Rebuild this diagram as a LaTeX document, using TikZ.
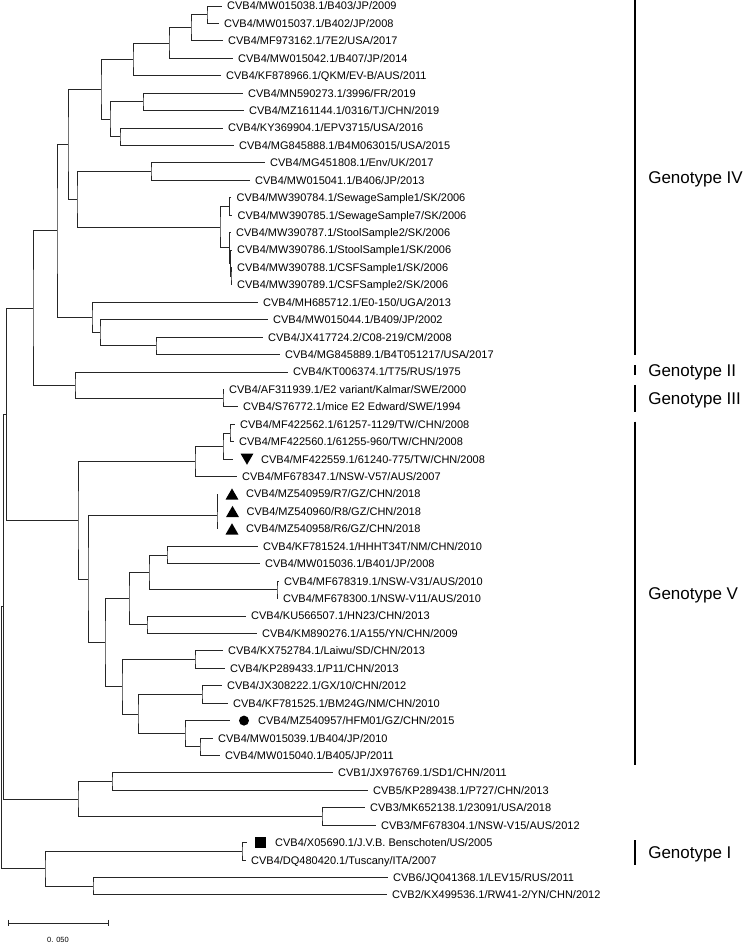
\documentclass[tikz,border=0pt]{standalone}
\usepackage{fontspec}
\setmainfont{Liberation Sans}
\usetikzlibrary{positioning,shapes.geometric}

\tikzset{
  branch/.style={draw=black!85, line width=0.95pt},
  leaf/.style={anchor=west, inner sep=0pt, text height=7.9pt, text depth=0pt,
    font=\fontsize{11}{13}\selectfont},
  gbar/.style={line width=2.6pt},
  glabel/.style={anchor=west, inner sep=0pt, text height=12.2pt, text depth=0pt,
    font=\fontsize{17}{20}\selectfont},
  uptri/.style={regular polygon, regular polygon sides=3, fill=black, draw=none,
    inner sep=0pt, minimum size=15pt, yshift=-1.9pt},
  downtri/.style={uptri, shape border rotate=180, yshift=3.8pt},
  dotmark/.style={circle, fill=black, inner sep=0pt, minimum size=10pt},
  sqmark/.style={rectangle, fill=black, inner sep=0pt, minimum size=11pt}
}

\begin{document}
\begin{tikzpicture}[x=1pt, y=-17.43pt]
\useasboundingbox (0,0.656) rectangle (750,54.874);

% Leaf tips (x in px, y in rows)
\coordinate (L1) at (222,1);
\coordinate (L2) at (219,2);
\coordinate (L3) at (223,3);
\coordinate (L4) at (233,4);
\coordinate (L5) at (221,5);
\coordinate (L6) at (243,6);
\coordinate (L7) at (244,7);
\coordinate (L8) at (223,8);
\coordinate (L9) at (234,9);
\coordinate (L10) at (265,10);
\coordinate (L11) at (250,11);
\coordinate (L12) at (231.5,12);
\coordinate (L13) at (232.5,13);
\coordinate (L14) at (231,14);
\coordinate (L15) at (232,15);
\coordinate (L16) at (232,16);
\coordinate (L17) at (232,17);
\coordinate (L18) at (258,18);
\coordinate (L19) at (268,19);
\coordinate (L20) at (263,20);
\coordinate (L21) at (280,21);
\coordinate (L22) at (288,22);
\coordinate (L23) at (224,23);
\coordinate (L24) at (238,24);
\coordinate (L25) at (235,25);
\coordinate (L26) at (234,26);
\coordinate (L27) at (233,27);
\coordinate (L28) at (237,28);
\coordinate (L29) at (218,29);
\coordinate (L30) at (218.5,30);
\coordinate (L31) at (218,31);
\coordinate (L32) at (258,32);
\coordinate (L33) at (260,33);
\coordinate (L34) at (279,34);
\coordinate (L35) at (278,35);
\coordinate (L36) at (246,36);
\coordinate (L37) at (257,37);
\coordinate (L38) at (223,38);
\coordinate (L39) at (225,39);
\coordinate (L40) at (222,40);
\coordinate (L41) at (228,41);
\coordinate (L42) at (230,42);
\coordinate (L43) at (213,43);
\coordinate (L44) at (220,44);
\coordinate (L45) at (333,45);
\coordinate (L46) at (368,46);
\coordinate (L47) at (365,47);
\coordinate (L48) at (376,48);
\coordinate (L49) at (247,49);
\coordinate (L50) at (246,50);
\coordinate (L51) at (388,51);
\coordinate (L52) at (387,52);

% Internal nodes: Genotype IV
\coordinate (n12) at (207,1.5);
\coordinate (n123) at (191,2.25);
\coordinate (n1234) at (169,3.125);
\coordinate (n15) at (133,4.0625);
\coordinate (n67) at (143,6.5);
\coordinate (n89) at (120,8.5);
\coordinate (n69) at (110,7.5);
\coordinate (n19) at (101,5.78125);
\coordinate (n1011) at (151,10.5);
\coordinate (n1213) at (229.5,12.5);
\coordinate (n1617) at (231,16.5);
\coordinate (n1517) at (230.5,15.75);
\coordinate (n1417) at (229.5,14.875);
\coordinate (n1217) at (220,13.6875);
\coordinate (n1017) at (77,12.09375);
\coordinate (n117) at (68,8.9375);
\coordinate (n2021) at (156,20.5);
\coordinate (n1921) at (100,19.75);
\coordinate (n1821) at (92,18.875);
\coordinate (nIV) at (57,13.90625);
% Genotype II and III
\coordinate (n2324) at (223,23.5);
\coordinate (n2224) at (75,22.75);
\coordinate (n124) at (33,18.328125);
% Genotype V
\coordinate (n2526) at (230,25.5);
\coordinate (n2527) at (223,26.25);
\coordinate (n2528) at (195,27.125);
\coordinate (n2930) at (217.5,29.5);
\coordinate (n2931) at (217,30.25);
\coordinate (n3233) at (167,32.5);
\coordinate (n3435) at (277,34.5);
\coordinate (n3235) at (149,33.5);
\coordinate (n3637) at (147,36.5);
\coordinate (n3237) at (129,35);
\coordinate (n3839) at (195,38.5);
\coordinate (n4041) at (202,40.5);
\coordinate (n4344) at (200,43.5);
\coordinate (n4244) at (185,42.75);
\coordinate (n4044) at (138,41.625);
\coordinate (n3844) at (122,40.0625);
\coordinate (n3244) at (105,37.53125);
\coordinate (n2944) at (88,33.890625);
\coordinate (nV) at (78,30.5078125);
\coordinate (nB4) at (6.7,24.41796875);
% Other serotypes and root
\coordinate (n4546) at (112,45.5);
\coordinate (n4748) at (322,47.5);
\coordinate (n4548) at (78,46.5);
\coordinate (nX) at (3.3,35.458984);
\coordinate (n4950) at (242,49.5);
\coordinate (n5152) at (93,51.5);
\coordinate (n4952) at (45,50.5);
\coordinate (root) at (1.7,42.979492);

% Branches
\draw[branch] (L1) -| (n12) |- (L2);
\draw[branch] (n12) -| (n123) |- (L3);
\draw[branch] (n123) -| (n1234) |- (L4);
\draw[branch] (n1234) -| (n15) |- (L5);
\draw[branch] (L6) -| (n67) |- (L7);
\draw[branch] (L8) -| (n89) |- (L9);
\draw[branch] (n67) -| (n69) |- (n89);
\draw[branch] (n15) -| (n19) |- (n69);
\draw[branch] (L10) -| (n1011) |- (L11);
\draw[branch] (L12) -| (n1213) |- (L13);
\draw[branch] (L16) -| (n1617) |- (L17);
\draw[branch] (L15) -| (n1517) |- (n1617);
\draw[branch] (L14) -| (n1417) |- (n1517);
\draw[branch] (n1213) -| (n1217) |- (n1417);
\draw[branch] (n1011) -| (n1017) |- (n1217);
\draw[branch] (n19) -| (n117) |- (n1017);
\draw[branch] (L20) -| (n2021) |- (L21);
\draw[branch] (L19) -| (n1921) |- (n2021);
\draw[branch] (L18) -| (n1821) |- (n1921);
\draw[branch] (n117) -| (nIV) |- (n1821);
\draw[branch] (L23) -| (n2324) |- (L24);
\draw[branch] (L22) -| (n2224) |- (n2324);
\draw[branch] (nIV) -| (n124) |- (n2224);
\draw[branch] (L25) -| (n2526) |- (L26);
\draw[branch] (n2526) -| (n2527) |- (L27);
\draw[branch] (n2527) -| (n2528) |- (L28);
\draw[branch] (L29) -| (n2930) |- (L30);
\draw[branch] (n2930) -| (n2931) |- (L31);
\draw[branch] (L32) -| (n3233) |- (L33);
\draw[branch] (L34) -| (n3435) |- (L35);
\draw[branch] (n3233) -| (n3235) |- (n3435);
\draw[branch] (L36) -| (n3637) |- (L37);
\draw[branch] (n3235) -| (n3237) |- (n3637);
\draw[branch] (L38) -| (n3839) |- (L39);
\draw[branch] (L40) -| (n4041) |- (L41);
\draw[branch] (L43) -| (n4344) |- (L44);
\draw[branch] (L42) -| (n4244) |- (n4344);
\draw[branch] (n4041) -| (n4044) |- (n4244);
\draw[branch] (n3839) -| (n3844) |- (n4044);
\draw[branch] (n3237) -| (n3244) |- (n3844);
\draw[branch] (n2931) -| (n2944) |- (n3244);
\draw[branch] (n2528) -| (nV) |- (n2944);
\draw[branch] (n124) -| (nB4) |- (nV);
\draw[branch] (L45) -| (n4546) |- (L46);
\draw[branch] (L47) -| (n4748) |- (L48);
\draw[branch] (n4546) -| (n4548) |- (n4748);
\draw[branch] (nB4) -| (nX) |- (n4548);
\draw[branch] (L49) -| (n4950) |- (L50);
\draw[branch] (L51) -| (n5152) |- (L52);
\draw[branch] (n4950) -| (n4952) |- (n5152);
\draw[branch] (nX) -| (root) |- (n4952);

% Markers for the study strains
\node[downtri] (m27) at ([xshift=14pt]L27) {};
\node[uptri] (m29) at ([xshift=14pt]L29) {};
\node[uptri] (m30) at ([xshift=14pt]L30) {};
\node[uptri] (m31) at ([xshift=14pt]L31) {};
\node[dotmark] (m42) at ([xshift=14pt]L42) {};
\node[sqmark] (m49) at ([xshift=14pt]L49) {};

% Leaf labels
\node[leaf, right=5pt of L1] (t1) {CVB4/MW015038.1/B403/JP/2009};
\node[leaf, right=5pt of L2] (t2) {CVB4/MW015037.1/B402/JP/2008};
\node[leaf, right=5pt of L3] (t3) {CVB4/MF973162.1/7E2/USA/2017};
\node[leaf, right=5pt of L4] (t4) {CVB4/MW015042.1/B407/JP/2014};
\node[leaf, right=5pt of L5] (t5) {CVB4/KF878966.1/QKM/EV-B/AUS/2011};
\node[leaf, right=5pt of L6] (t6) {CVB4/MN590273.1/3996/FR/2019};
\node[leaf, right=5pt of L7] (t7) {CVB4/MZ161144.1/0316/TJ/CHN/2019};
\node[leaf, right=5pt of L8] (t8) {CVB4/KY369904.1/EPV3715/USA/2016};
\node[leaf, right=5pt of L9] (t9) {CVB4/MG845888.1/B4M063015/USA/2015};
\node[leaf, right=5pt of L10] (t10) {CVB4/MG451808.1/Env/UK/2017};
\node[leaf, right=5pt of L11] (t11) {CVB4/MW015041.1/B406/JP/2013};
\node[leaf, right=5pt of L12] (t12) {CVB4/MW390784.1/SewageSample1/SK/2006};
\node[leaf, right=5pt of L13] (t13) {CVB4/MW390785.1/SewageSample7/SK/2006};
\node[leaf, right=5pt of L14] (t14) {CVB4/MW390787.1/StoolSample2/SK/2006};
\node[leaf, right=5pt of L15] (t15) {CVB4/MW390786.1/StoolSample1/SK/2006};
\node[leaf, right=5pt of L16] (t16) {CVB4/MW390788.1/CSFSample1/SK/2006};
\node[leaf, right=5pt of L17] (t17) {CVB4/MW390789.1/CSFSample2/SK/2006};
\node[leaf, right=5pt of L18] (t18) {CVB4/MH685712.1/E0-150/UGA/2013};
\node[leaf, right=5pt of L19] (t19) {CVB4/MW015044.1/B409/JP/2002};
\node[leaf, right=5pt of L20] (t20) {CVB4/JX417724.2/C08-219/CM/2008};
\node[leaf, right=5pt of L21] (t21) {CVB4/MG845889.1/B4T051217/USA/2017};
\node[leaf, right=5pt of L22] (t22) {CVB4/KT006374.1/T75/RUS/1975};
\node[leaf, right=5pt of L23] (t23) {CVB4/AF311939.1/E2 variant/Kalmar/SWE/2000};
\node[leaf, right=5pt of L24] (t24) {CVB4/S76772.1/mice E2 Edward/SWE/1994};
\node[leaf, right=5pt of L25] (t25) {CVB4/MF422562.1/61257-1129/TW/CHN/2008};
\node[leaf, right=5pt of L26] (t26) {CVB4/MF422560.1/61255-960/TW/CHN/2008};
\node[leaf, right=28pt of L27] (t27) {CVB4/MF422559.1/61240-775/TW/CHN/2008};
\node[leaf, right=5pt of L28] (t28) {CVB4/MF678347.1/NSW-V57/AUS/2007};
\node[leaf, right=28pt of L29] (t29) {CVB4/MZ540959/R7/GZ/CHN/2018};
\node[leaf, right=28pt of L30] (t30) {CVB4/MZ540960/R8/GZ/CHN/2018};
\node[leaf, right=28pt of L31] (t31) {CVB4/MZ540958/R6/GZ/CHN/2018};
\node[leaf, right=5pt of L32] (t32) {CVB4/KF781524.1/HHHT34T/NM/CHN/2010};
\node[leaf, right=5pt of L33] (t33) {CVB4/MW015036.1/B401/JP/2008};
\node[leaf, right=5pt of L34] (t34) {CVB4/MF678319.1/NSW-V31/AUS/2010};
\node[leaf, right=5pt of L35] (t35) {CVB4/MF678300.1/NSW-V11/AUS/2010};
\node[leaf, right=5pt of L36] (t36) {CVB4/KU566507.1/HN23/CHN/2013};
\node[leaf, right=5pt of L37] (t37) {CVB4/KM890276.1/A155/YN/CHN/2009};
\node[leaf, right=5pt of L38] (t38) {CVB4/KX752784.1/Laiwu/SD/CHN/2013};
\node[leaf, right=5pt of L39] (t39) {CVB4/KP289433.1/P11/CHN/2013};
\node[leaf, right=5pt of L40] (t40) {CVB4/JX308222.1/GX/10/CHN/2012};
\node[leaf, right=5pt of L41] (t41) {CVB4/KF781525.1/BM24G/NM/CHN/2010};
\node[leaf, right=28pt of L42] (t42) {CVB4/MZ540957/HFM01/GZ/CHN/2015};
\node[leaf, right=5pt of L43] (t43) {CVB4/MW015039.1/B404/JP/2010};
\node[leaf, right=5pt of L44] (t44) {CVB4/MW015040.1/B405/JP/2011};
\node[leaf, right=5pt of L45] (t45) {CVB1/JX976769.1/SD1/CHN/2011};
\node[leaf, right=5pt of L46] (t46) {CVB5/KP289438.1/P727/CHN/2013};
\node[leaf, right=5pt of L47] (t47) {CVB3/MK652138.1/23091/USA/2018};
\node[leaf, right=5pt of L48] (t48) {CVB3/MF678304.1/NSW-V15/AUS/2012};
\node[leaf, right=28pt of L49] (t49) {CVB4/X05690.1/J.V.B. Benschoten/US/2005};
\node[leaf, right=5pt of L50] (t50) {CVB4/DQ480420.1/Tuscany/ITA/2007};
\node[leaf, right=5pt of L51] (t51) {CVB6/JQ041368.1/LEV15/RUS/2011};
\node[leaf, right=5pt of L52] (t52) {CVB2/KX499536.1/RW41-2/YN/CHN/2012};

% Genotype bars
\coordinate (IVa) at (635,0.656);
\coordinate (IVb) at (635,21.02);
\coordinate (IIa) at (635,21.6);
\coordinate (IIb) at (635,22.17);
\coordinate (IIIa) at (635,22.74);
\coordinate (IIIb) at (635,24.29);
\coordinate (Va) at (635,24.85);
\coordinate (Vb) at (635,44.55);
\coordinate (Ia) at (635,48.85);
\coordinate (Ib) at (635,50.28);
\draw[gbar] (IVa) -- (IVb) node[glabel, midway, right=12pt] (gIV) {Genotype IV};
\draw[gbar] (IIa) -- (IIb) node[glabel, midway, right=12pt] (gII) {Genotype II};
\draw[gbar] (IIIa) -- (IIIb) node[glabel, midway, right=12pt] (gIII) {Genotype III};
\draw[gbar] (Va) -- (Vb) node[glabel, midway, right=12pt] (gV) {Genotype V};
\draw[gbar] (Ia) -- (Ib) node[glabel, midway, right=12pt] (gI) {Genotype I};

% Scale bar
\coordinate (sbA) at (8,53.61);
\coordinate (sbB) at (108,53.61);
\draw[branch] (sbA) -- (sbB);
\draw[branch] ([yshift=3pt]sbA) -- ([yshift=-3pt]sbA);
\draw[branch] ([yshift=3pt]sbB) -- ([yshift=-3pt]sbB);
\node[inner sep=0pt, font=\fontsize{7.5}{9}\selectfont] (sbtext) at (58,54.59) {0. 050};

\end{tikzpicture}
\end{document}
